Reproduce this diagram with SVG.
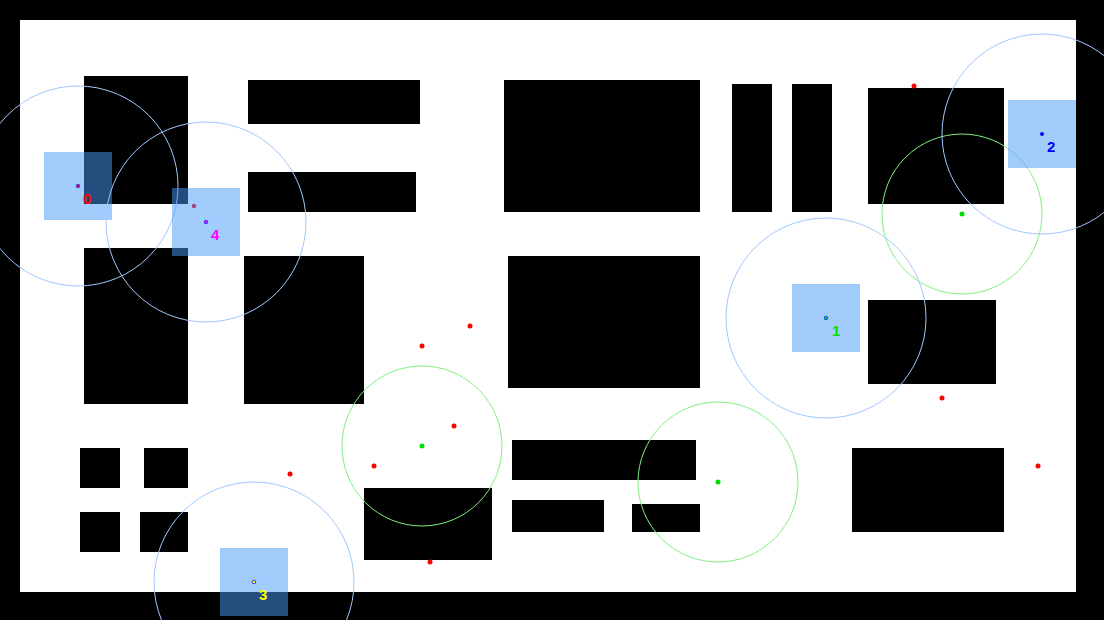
<svg xmlns="http://www.w3.org/2000/svg" width="1104" height="620" viewBox="0 0 1104 620">
<style>
.obs{fill:#000}
.fov{fill:none;stroke:#a0c8ff;stroke-width:1}
.goal{fill:none;stroke:#80f080;stroke-width:1}
.body{fill:rgb(70,154,250);fill-opacity:0.5}
.wp{fill:#ff0000}
.gd{fill:#00e000}
.rd{stroke:#2040ff;stroke-width:1}
.lbl{font-family:"Liberation Sans",Arial,sans-serif;font-weight:bold;font-size:15px}
</style>
<rect x="0" y="0" width="1104" height="620" fill="#000"/>
<rect x="20" y="20" width="1056" height="572" fill="#fff"/>
<g id="obstacles">
<rect class="obs" x="84" y="76" width="104" height="128"/>
<rect class="obs" x="248" y="80" width="172" height="44"/>
<rect class="obs" x="248" y="172" width="168" height="40"/>
<rect class="obs" x="84" y="248" width="104" height="156"/>
<rect class="obs" x="244" y="256" width="120" height="148"/>
<rect class="obs" x="504" y="80" width="196" height="132"/>
<rect class="obs" x="732" y="84" width="40" height="128"/>
<rect class="obs" x="792" y="84" width="40" height="128"/>
<rect class="obs" x="868" y="88" width="136" height="116"/>
<rect class="obs" x="508" y="256" width="192" height="132"/>
<rect class="obs" x="868" y="300" width="128" height="84"/>
<rect class="obs" x="852" y="448" width="152" height="84"/>
<rect class="obs" x="80" y="448" width="40" height="40"/>
<rect class="obs" x="144" y="448" width="44" height="40"/>
<rect class="obs" x="80" y="512" width="40" height="40"/>
<rect class="obs" x="140" y="512" width="48" height="40"/>
<rect class="obs" x="364" y="488" width="128" height="72"/>
<rect class="obs" x="512" y="440" width="184" height="40"/>
<rect class="obs" x="512" y="500" width="92" height="32"/>
<rect class="obs" x="632" y="504" width="68" height="28"/>
</g>
<g id="goals">
<circle class="goal" cx="962" cy="214" r="80"/>
<circle class="goal" cx="422" cy="446" r="80"/>
<circle class="goal" cx="718" cy="482" r="80"/>
<circle class="gd" cx="962" cy="214" r="2.5"/>
<circle class="gd" cx="422" cy="446" r="2.5"/>
<circle class="gd" cx="718" cy="482" r="2.5"/>
</g>
<g id="waypoints">
<circle class="wp" cx="914" cy="86" r="2.5"/>
<circle class="wp" cx="470" cy="326" r="2.5"/>
<circle class="wp" cx="422" cy="346" r="2.5"/>
<circle class="wp" cx="454" cy="426" r="2.5"/>
<circle class="wp" cx="374" cy="466" r="2.5"/>
<circle class="wp" cx="430" cy="562" r="2.5"/>
<circle class="wp" cx="290" cy="474" r="2.5"/>
<circle class="wp" cx="942" cy="398" r="2.5"/>
<circle class="wp" cx="1038" cy="466" r="2.5"/>
</g>
<g id="robot0">
<circle class="fov" cx="78" cy="186" r="100"/>
<rect class="body" x="44" y="152" width="68" height="68"/>
<circle class="rd" cx="78" cy="186" r="1.8" fill="#ff0000"/>
<text class="lbl" x="83" y="204" fill="#ff0000">0</text>
</g>
<g id="robot4">
<circle class="fov" cx="206" cy="222" r="100"/>
<rect class="body" x="172" y="188" width="68" height="68"/>
<circle cx="194" cy="206" r="2.2" fill="#a04a80"/>
<circle class="rd" cx="206" cy="222" r="1.8" fill="#ff00ff"/>
<text class="lbl" x="211" y="240" fill="#ff00ff">4</text>
</g>
<g id="robot2">
<circle class="fov" cx="1042" cy="134" r="100"/>
<rect class="body" x="1008" y="100" width="68" height="68"/>
<circle cx="1042" cy="134" r="2" fill="#0000ff"/>
<text class="lbl" x="1047" y="152" fill="#0000ff">2</text>
</g>
<g id="robot1">
<circle class="fov" cx="826" cy="318" r="100"/>
<rect class="body" x="792" y="284" width="68" height="68"/>
<circle class="rd" cx="826" cy="318" r="1.8" fill="#00e000"/>
<text class="lbl" x="832" y="336" fill="#00e000">1</text>
</g>
<g id="robot3">
<circle class="fov" cx="254" cy="582" r="100"/>
<rect class="body" x="220" y="548" width="68" height="68"/>
<circle class="rd" cx="254" cy="582" r="1.8" fill="#ffff00"/>
<text class="lbl" x="259" y="600" fill="#ffff00">3</text>
</g>
<g id="connectors"/>
</svg>
